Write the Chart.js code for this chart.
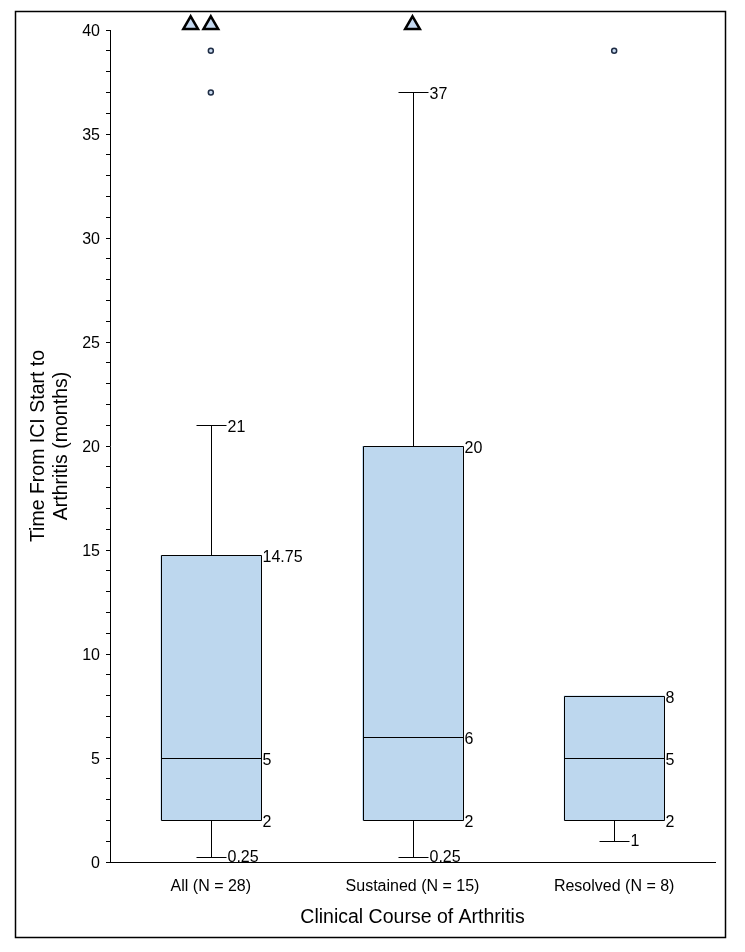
<!DOCTYPE html>
<html>
<head>
<meta charset="utf-8">
<script src="https://cdn.jsdelivr.net/npm/chart.js@4"></script>
<style>
  body { margin: 0; background: #fff; }
</style>
</head>
<body>
<canvas id="boxChart" width="745" height="952"></canvas>
<script>
// box plot values (months)
const categories = ['All (N = 28)', 'Sustained (N = 15)', 'Resolved (N = 8)'];
const whiskerLow = [0.25, 0.25, 1];
const q1 = [2, 2, 2];
const median = [5, 6, 5];
const q3 = [14.75, 20, 8];
const whiskerHigh = [21, 37, 8];

// outliers inside the axis range (circles)
const outlierPos = [0, 0, 2];
const outlierVal = [39, 37, 39];

// values beyond the top of the axis, shown as triangles at the edge
const offscalePos = [-0.1, 0, 1];
const offscaleVal = [40.25, 40.25, 40.25];

const FONT = 'Liberation Sans, Arial, sans-serif';
const boxFill = 'rgb(189, 215, 238)';

// whiskers, box outlines, medians and value labels
const boxExtras = {
  id: 'boxExtras',
  beforeDraw(chart) {
    const ctx = chart.ctx;
    ctx.save();
    ctx.fillStyle = '#fff';
    ctx.fillRect(0, 0, chart.width, chart.height);
    ctx.strokeStyle = '#000';
    ctx.lineWidth = 1.5;
    ctx.strokeRect(15.5, 11.5, 710, 926);
    ctx.restore();
  },
  afterDatasetsDraw(chart) {
    const ctx = chart.ctx;
    const y = chart.scales.y;
    const meta = chart.getDatasetMeta(0);
    const capHalf = 15;
    const py = v => Math.round(y.getPixelForValue(v)) + 0.5;

    ctx.save();
    ctx.strokeStyle = '#000';
    ctx.lineWidth = 1;
    ctx.fillStyle = '#000';
    ctx.font = '16px ' + FONT;
    ctx.textAlign = 'left';
    ctx.textBaseline = 'middle';

    for (let i = 0; i < categories.length; i++) {
      const bar = meta.data[i];
      const cx = Math.round(bar.x) + 0.5;
      const half = Math.round(bar.width / 2);
      const boxRight = cx + half;

      ctx.beginPath();
      ctx.rect(cx - half, py(q3[i]), half * 2, py(q1[i]) - py(q3[i]));
      ctx.moveTo(cx - half, py(median[i]));
      ctx.lineTo(cx + half, py(median[i]));
      if (whiskerHigh[i] > q3[i]) {
        ctx.moveTo(cx, py(q3[i]));
        ctx.lineTo(cx, py(whiskerHigh[i]));
        ctx.moveTo(cx - capHalf, py(whiskerHigh[i]));
        ctx.lineTo(cx + capHalf, py(whiskerHigh[i]));
      }
      if (whiskerLow[i] < q1[i]) {
        ctx.moveTo(cx, py(q1[i]));
        ctx.lineTo(cx, py(whiskerLow[i]));
        ctx.moveTo(cx - capHalf, py(whiskerLow[i]));
        ctx.lineTo(cx + capHalf, py(whiskerLow[i]));
      }
      ctx.stroke();

      ctx.fillText(String(q3[i]), boxRight + 1, py(q3[i]) + 2);
      ctx.fillText(String(median[i]), boxRight + 1, py(median[i]) + 2);
      ctx.fillText(String(q1[i]), boxRight + 1, py(q1[i]) + 2);
      if (whiskerHigh[i] > q3[i]) {
        ctx.fillText(String(whiskerHigh[i]), cx + capHalf + 1, py(whiskerHigh[i]) + 2);
      }
      if (whiskerLow[i] < q1[i]) {
        ctx.fillText(String(whiskerLow[i]), cx + capHalf + 1, py(whiskerLow[i]));
      }
    }
    ctx.restore();
  }
};

new Chart(document.getElementById('boxChart'), {
  type: 'bar',
  data: {
    labels: categories,
    datasets: [{
      label: 'IQR',
      data: q1.map((v, i) => [v, q3[i]]),
      backgroundColor: boxFill,
      borderWidth: 0,
      grouped: false,
      barPercentage: 0.5,
      categoryPercentage: 1.0
    }, {
      type: 'scatter',
      label: 'Outliers',
      xAxisID: 'xp',
      data: outlierPos.map((p, i) => ({x: p, y: outlierVal[i]})),
      pointStyle: 'circle',
      pointRadius: 2.5,
      pointBackgroundColor: 'rgb(200, 218, 240)',
      pointBorderColor: '#1f2d45',
      pointBorderWidth: 1.5,
      clip: false
    }, {
      type: 'scatter',
      label: 'Off scale',
      xAxisID: 'xp',
      data: offscalePos.map((p, i) => ({x: p, y: offscaleVal[i]})),
      pointStyle: 'triangle',
      pointRadius: 8.5,
      pointBackgroundColor: 'rgb(197, 217, 241)',
      pointBorderColor: '#000',
      pointBorderWidth: 2.5,
      clip: false
    }]
  },
  options: {
    responsive: false,
    animation: false,
    devicePixelRatio: 1,
    layout: { padding: { left: 0, right: 30, top: 30, bottom: 0 } },
    plugins: {
      legend: { display: false },
      tooltip: { enabled: false }
    },
    scales: {
      x: {
        type: 'category',
        offset: true,
        grid: { display: false },
        border: { display: true, color: '#000', width: 1 },
        ticks: { color: '#000', font: { family: FONT, size: 16 }, padding: 7 },
        title: {
          display: true,
          text: 'Clinical Course of Arthritis',
          color: '#000',
          font: { family: FONT, size: 19.5, lineHeight: 1.2 },
          padding: { top: 0, bottom: 23 }
        },
        afterFit(scale) { scale.height = 90; }
      },
      xp: {
        type: 'linear',
        display: false,
        offset: false,
        grid: { offset: false },
        min: -0.5,
        max: 2.5
      },
      y: {
        min: 0,
        max: 40,
        grid: { drawOnChartArea: false, drawTicks: true, tickLength: 4, tickColor: '#000' },
        border: { display: true, color: '#000', width: 1 },
        ticks: {
          stepSize: 1,
          autoSkip: false,
          color: '#000',
          padding: 6,
          labelOffset: 2,
          font: { family: FONT, size: 16 },
          callback: v => (v % 5 === 0 ? v : '')
        },
        title: {
          display: true,
          text: ['Time From ICI Start to', 'Arthritis (months)'],
          color: '#000',
          font: { family: FONT, size: 19.5, lineHeight: 1.18 },
          padding: { top: 27, bottom: 0 }
        },
        afterFit(scale) { scale.width = 110; }
      }
    }
  },
  plugins: [boxExtras]
});
</script>
</body>
</html>
